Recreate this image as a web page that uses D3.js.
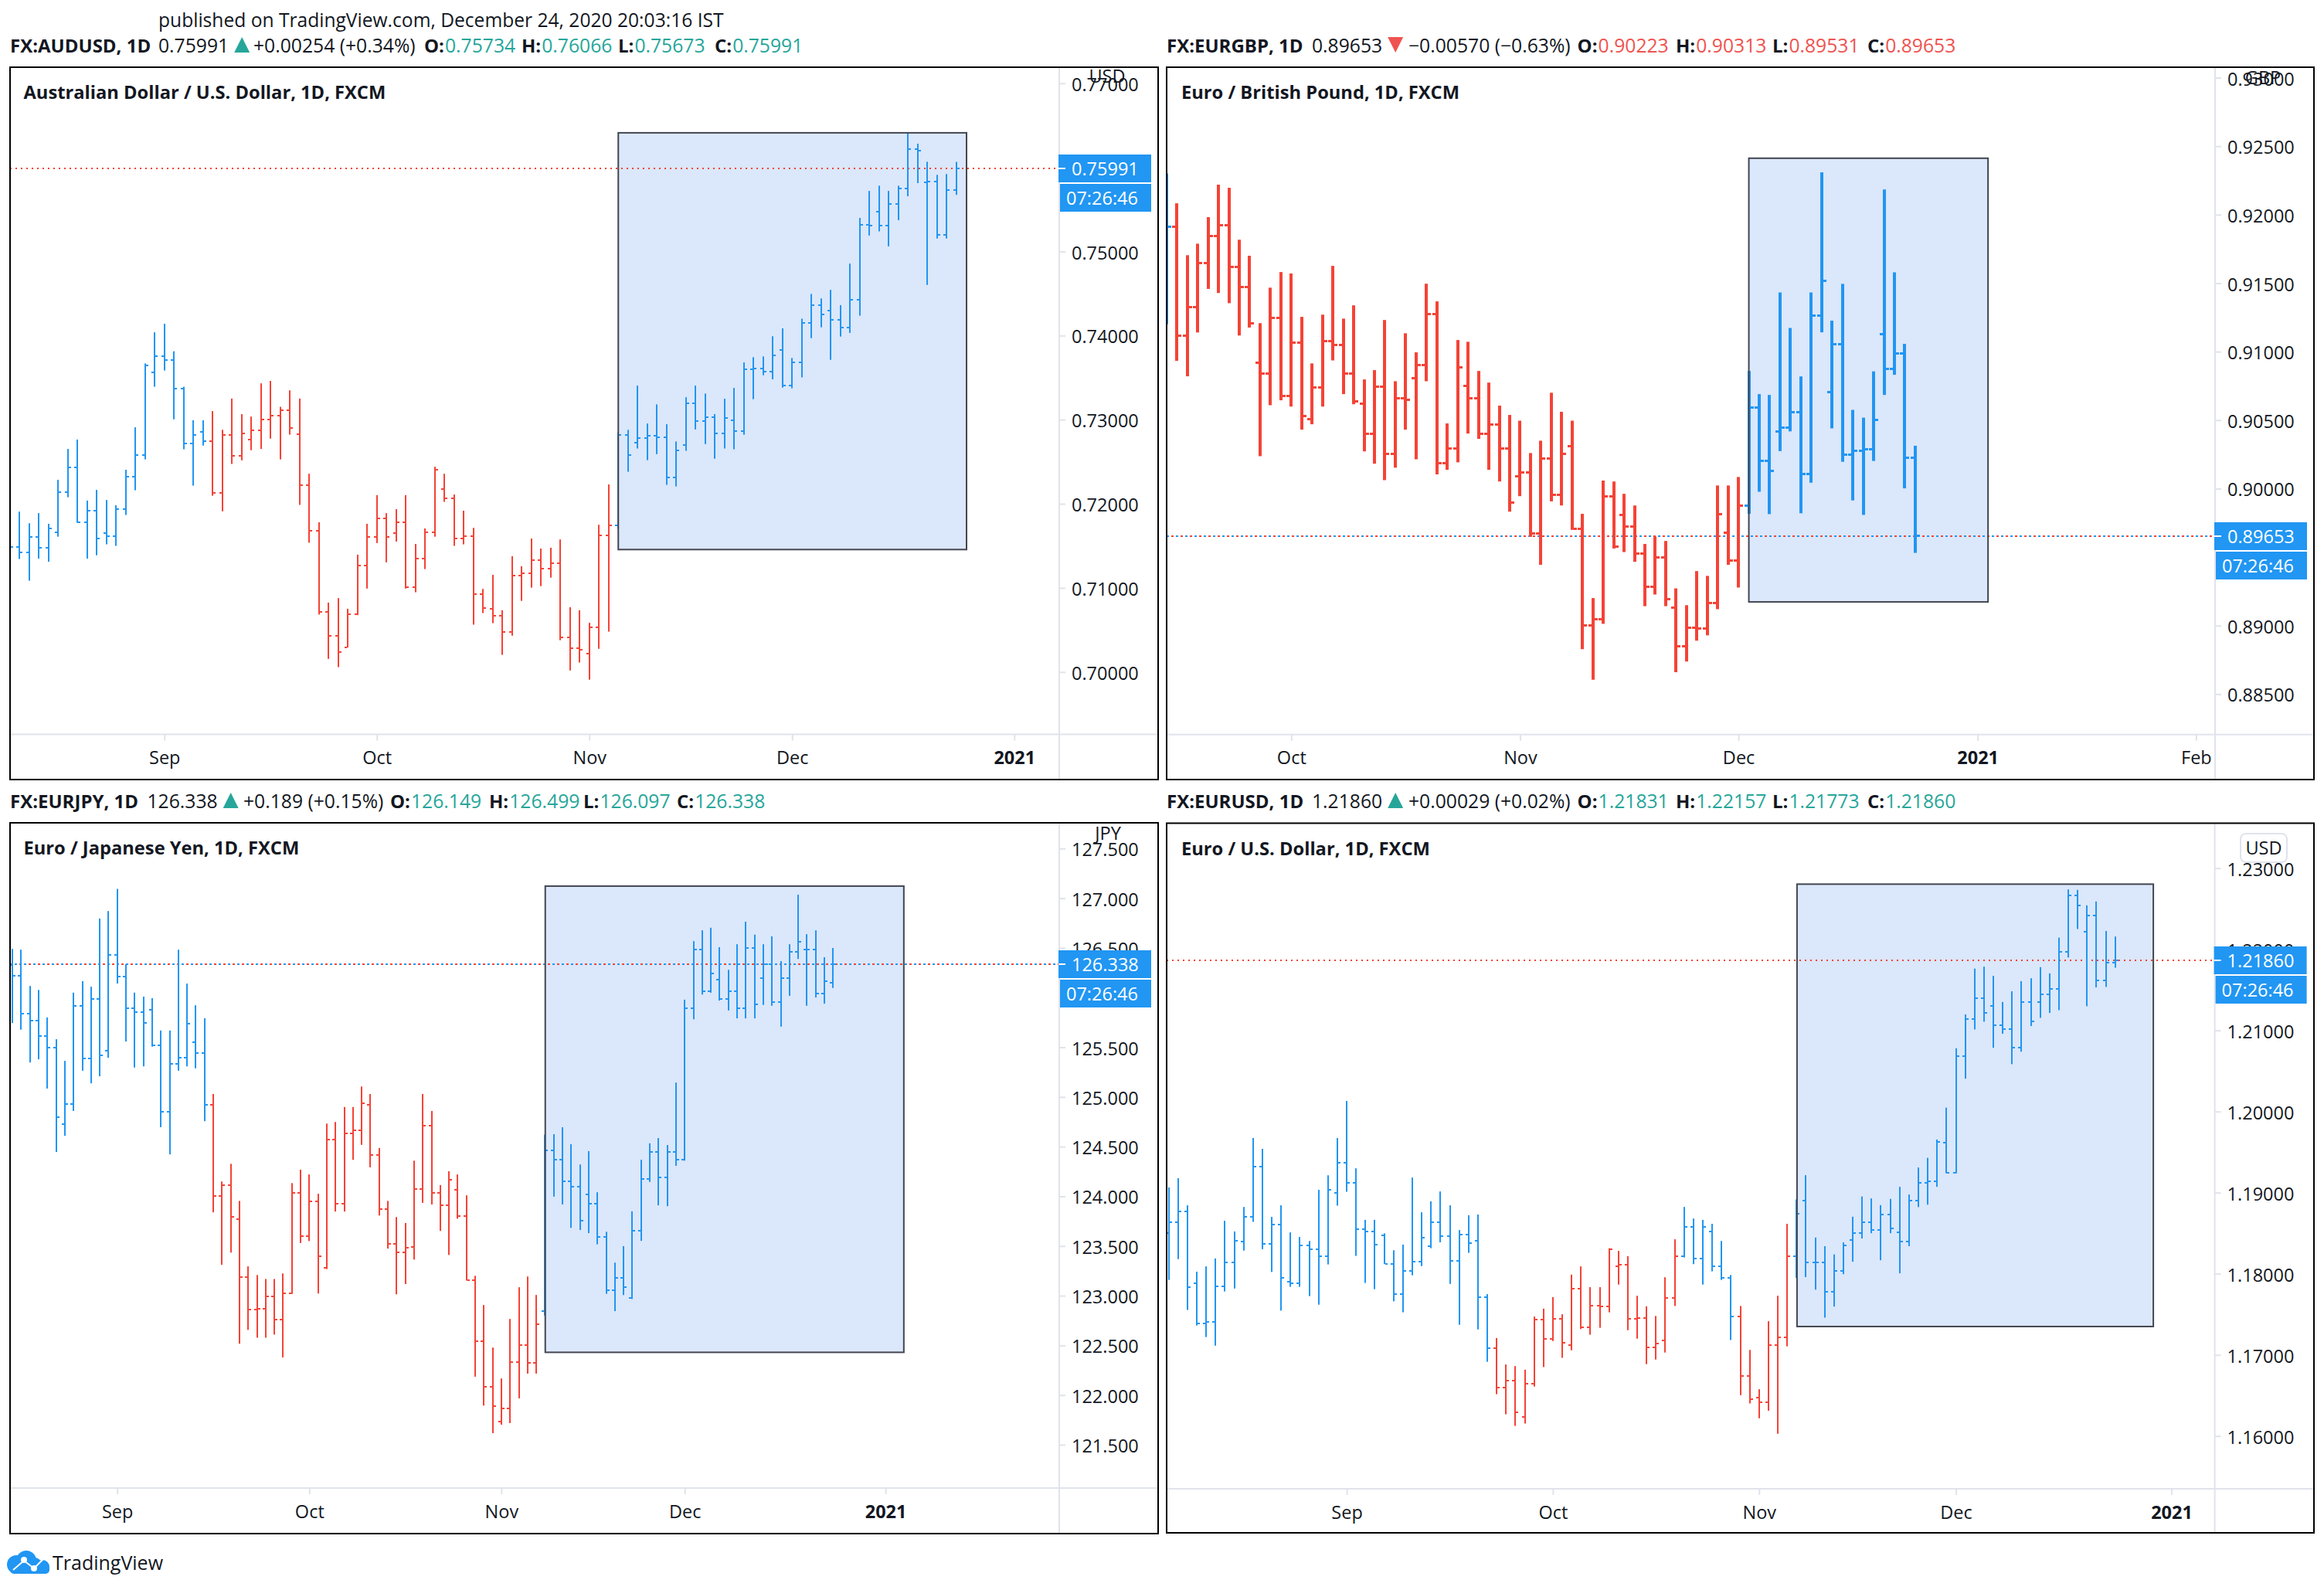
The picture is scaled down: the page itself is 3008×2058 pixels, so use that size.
<!DOCTYPE html>
<html>
<head>
<meta charset="utf-8">
<title>FX daily bars</title>
<script src="https://cdnjs.cloudflare.com/ajax/libs/d3/7.8.5/d3.min.js"></script>
<style>
  html, body { margin: 0; padding: 0; background: #ffffff; }
  svg { display: block; }
  text { font-family: "Open Sans", "Noto Sans", sans-serif; fill: #131722; }
</style>
</head>
<body>
<svg id="chart" width="3008" height="2058"></svg>
<script>
// Daily open / high / low / close for each pair, oldest bar first.
const audOpen = [.7155,.71489,.71424,.71606,.71478,.71664,.72139,.72434,.7178,.71918,.71653,.71616,.7194,.72325,.72583,.73563,.73756,.73712,.73371,.72717,.72855,.72746,.72132,.72819,.72572,.72764,.72873,.73004,.73047,.73113,.72829,.72223,.71682,.70716,.70432,.70291,.7069,.71268,.71606,.71827,.71653,.71783,.7101,.71351,.71664,.72176,.72067,.71587,.71616,.70926,.70752,.70672,.70476,.71148,.71177,.71333,.71231,.7129,.70414,.70283,.70222,.70534,.71624,.71746,.72821,.72723,.72777,.72808,.72795,.72314,.72697,.73195,.72982,.73031,.72835,.72995,.72861,.73596,.73605,.73569,.73832,.73405,.73685,.74152,.74362,.74295,.74184,.74095,.74424,.75319,.7547,.7531,.75564,.75751,.76218,.75826,.75831,.75194,.75734];
const audHigh = [.7170,.71907,.71769,.71889,.71762,.72285,.72652,.72764,.72038,.72165,.72045,.71983,.72405,.72909,.73669,.74039,.74141,.73814,.73392,.72993,.72993,.73102,.7288,.73251,.73066,.73037,.73432,.73461,.73153,.73349,.73251,.72357,.7178,.70825,.70879,.70752,.71395,.71762,.72103,.71889,.71936,.72103,.71522,.71707,.72441,.72357,.7211,.71918,.71714,.70988,.71155,.70734,.71377,.71257,.71587,.71468,.71478,.71576,.7077,.70734,.70585,.71751,.7223,.7285,.72879,.73405,.72955,.73182,.72946,.72741,.73267,.73405,.73311,.73066,.73249,.73378,.73681,.73743,.73752,.73992,.74086,.73734,.74201,.74495,.74442,.74544,.74362,.74856,.75399,.7572,.75782,.7572,.75782,.7641,.76281,.76067,.75911,.7592,.76066];
const audLow = [.7130,.71344,.71086,.71348,.71311,.71609,.72078,.71773,.71348,.71388,.71518,.715,.71867,.72161,.72528,.73392,.73585,.73004,.72648,.72216,.72692,.72096,.71911,.72474,.72517,.72637,.72652,.72775,.72528,.72822,.71987,.71537,.70683,.70156,.70058,.70291,.70676,.70992,.71533,.71304,.71551,.70992,.70948,.71224,.71609,.72023,.715,.71518,.70563,.70701,.70581,.70204,.70432,.70846,.71003,.71021,.71122,.70378,.70018,.70113,.69909,.70276,.7048,.7170,.72381,.72657,.72519,.7259,.72225,.72207,.7263,.72884,.7271,.72536,.72657,.72648,.72821,.73244,.73529,.7348,.73382,.73373,.73503,.7397,.74099,.73712,.73988,.74032,.74237,.7519,.75239,.75061,.75372,.75657,.75813,.74602,.75154,.75154,.75673];
const audClose = [.71489,.71424,.71606,.71478,.71707,.72139,.72434,.7178,.71918,.71587,.71616,.7194,.72325,.72583,.73647,.73756,.73712,.73371,.72717,.72815,.72746,.72132,.72819,.72572,.72833,.72873,.73004,.73047,.73113,.72902,.72223,.71682,.70716,.70432,.7024,.7069,.71268,.71606,.71827,.71606,.71783,.7101,.71351,.71664,.72401,.72067,.71587,.71616,.70926,.70763,.70672,.70476,.71148,.71177,.71333,.71231,.7129,.70414,.70283,.70265,.70534,.71624,.71744,.72821,.72581,.72777,.72808,.72795,.72314,.72634,.73195,.72982,.73031,.72835,.73022,.72861,.73596,.73605,.73569,.73765,.73405,.73685,.74152,.74362,.74255,.74184,.74095,.74424,.75319,.7531,.7531,.75564,.75751,.76218,.762,.75831,.75194,.75729,.75991];

const gbpOpen = [.9200,.91911,.91114,.91325,.91649,.91843,.91921,.91616,.91474,.90917,.90839,.91247,.90677,.91066,.90509,.90736,.91075,.91046,.90842,.90622,.90399,.90742,.90256,.90661,.90804,.90904,.91276,.90188,.90295,.90748,.90658,.90399,.9047,.90292,.90088,.9012,.8967,.90217,.89952,.90308,.89709,.89,.89045,.89945,.89809,.89722,.89524,.89285,.89495,.89133,.88848,.88987,.8898,.89165,.89677,.89473,.89877,.9059,.90202,.90418,.90446,.90559,.90105,.91263,.90703,.91057,.90246,.90277,.9029,.91126,.90872,.90985,.90223];
const gbpHigh = [.9230,.92083,.91704,.91788,.91982,.92219,.92196,.91817,.917,.91208,.91467,.91581,.91571,.91254,.90914,.9127,.91626,.91241,.91338,.90797,.90865,.91231,.90784,.91134,.90995,.91496,.91367,.90476,.91085,.91072,.90859,.90774,.90606,.90538,.90496,.9026,.9035,.907,.90561,.90496,.89816,.89201,.90059,.90052,.89962,.89877,.89596,.89651,.89618,.89272,.89149,.89398,.89363,.90023,.90023,.90085,.90859,.9069,.90684,.91432,.91173,.90819,.91432,.92309,.91226,.91495,.90575,.90518,.90856,.92184,.91579,.91057,.90313];
const gbpLow = [.9120,.90933,.9082,.9114,.91458,.91428,.91354,.91118,.91176,.90237,.90609,.90645,.90599,.90431,.9047,.90599,.90936,.9069,.90616,.90272,.90182,.90062,.90153,.90431,.90214,.90784,.90104,.90137,.90192,.90402,.90363,.90137,.90052,.89832,.89945,.89648,.89444,.89907,.89877,.89699,.88828,.88605,.89013,.89563,.89537,.89466,.89142,.89227,.89142,.8866,.88738,.8889,.88929,.8912,.89444,.89278,.89816,.89977,.89814,.90274,.90418,.8982,.90043,.91141,.9044,.90196,.89914,.89808,.90202,.90684,.90831,.90002,.89531];
const gbpClose = [.91911,.91114,.91325,.91649,.91843,.91921,.91616,.91474,.91208,.90839,.91247,.90677,.91066,.90532,.90736,.91075,.91046,.90842,.90638,.90399,.90742,.90256,.90661,.90651,.90904,.91276,.90188,.90295,.90884,.90658,.90399,.9047,.90292,.899,.9012,.8967,.90217,.89952,.90256,.89709,.89,.89045,.89945,.89576,.89722,.89524,.89285,.89495,.89194,.88848,.88987,.8898,.89165,.89816,.89473,.89877,.9059,.90202,.9013,.90446,.90559,.90105,.91263,.91517,.91057,.90246,.90277,.9029,.90503,.90872,.90985,.90227,.89653];

const jpyOpen = [126.332,126.220,125.839,125.768,125.613,125.498,124.724,124.926,125.915,125.387,125.986,125.466,126.427,126.212,125.891,125.855,125.879,125.518,124.851,125.332,125.395,125.550,125.442,124.918,124.002,124.113,123.768,123.184,122.859,122.867,122.990,122.760,123.022,124.034,123.597,123.946,123.280,124.570,123.926,124.633,124.665,124.918,124.415,123.871,123.522,123.434,123.490,124.073,124.708,124.034,123.910,124.065,123.799,123.157,122.54,122.083,121.733,121.866,122.332,122.504,122.325,122.846,124.464,124.368,124.150,124.097,124.019,123.927,123.591,123.054,123.181,122.980,123.652,124.172,124.447,124.189,124.447,124.368,125.896,126.485,126.066,126.184,125.987,126.062,125.896,126.502,126.193,126.337,125.952,126.193,126.463,126.481,126.481,126.040,126.149];
const jpyHigh = [126.490,126.482,126.117,126.077,125.800,125.581,125.363,126.050,126.165,126.109,126.796,126.871,127.094,126.335,126.050,126.010,125.994,125.669,125.669,126.482,126.141,125.923,125.792,125.030,124.149,124.327,123.954,123.295,123.208,123.168,123.168,123.224,124.133,124.268,124.220,124.026,124.732,124.748,124.899,124.899,125.105,125.030,124.486,123.954,123.791,123.732,124.359,125.030,124.859,124.113,124.252,124.220,124.010,123.20,122.906,122.478,122.167,122.766,123.085,123.193,123.007,124.62,124.626,124.695,124.525,124.320,124.455,124.041,123.643,123.333,123.499,123.849,124.368,124.534,124.586,124.516,125.145,125.979,126.568,126.677,126.703,126.507,126.280,126.537,126.764,126.633,126.537,126.616,126.367,126.537,127.035,126.638,126.677,126.406,126.499];
const jpyLow = [125.744,125.677,125.347,125.379,125.085,124.446,124.609,124.859,125.264,125.137,125.208,125.395,126.141,125.558,125.296,125.308,125.506,124.696,124.422,125.264,125.308,125.288,124.756,123.839,123.311,123.434,122.517,122.656,122.577,122.577,122.609,122.379,123.018,123.530,123.550,123.022,123.268,123.847,123.847,124.367,124.518,124.292,123.807,123.474,123.014,123.117,123.363,123.934,123.918,123.652,123.410,123.775,123.152,122.185,121.894,121.617,121.702,121.718,121.967,122.216,122.216,122.80,123.997,123.918,123.683,123.661,123.630,123.517,123.019,122.845,123.006,122.967,123.552,124.145,123.910,123.901,124.307,124.359,125.782,126.031,126.049,125.970,125.870,125.791,125.791,125.791,125.926,125.918,125.708,126.018,126.389,125.918,126.001,125.939,126.097];
const jpyClose = [126.220,125.839,125.768,125.613,125.498,124.795,124.926,125.915,125.387,125.986,125.419,126.427,126.212,125.891,125.855,125.744,125.518,124.851,125.332,125.395,125.736,125.442,124.918,124.002,124.113,123.791,123.184,122.859,122.867,122.990,122.760,123.022,124.034,123.597,123.946,123.395,124.570,123.926,124.633,124.665,124.934,124.415,123.871,123.522,123.434,123.482,124.073,124.708,124.034,123.910,124.164,123.799,123.156,122.54,122.083,121.889,121.866,122.332,122.504,122.325,122.714,124.464,124.368,124.150,124.097,123.753,123.927,123.591,123.054,123.181,123.085,123.652,124.172,124.447,124.189,124.447,124.368,125.896,126.485,126.066,126.241,125.987,126.062,125.896,126.502,125.935,126.337,125.952,126.193,126.463,126.559,126.481,126.040,126.166,126.338];

const usdOpen = [1.1850,1.18636,1.18771,1.17883,1.17387,1.17407,1.17847,1.1814,1.18396,1.18706,1.19324,1.18368,1.18608,1.17904,1.17883,1.18351,1.18303,1.18217,1.18999,1.19373,1.19125,1.18551,1.18522,1.18474,1.18124,1.17749,1.18038,1.18152,1.18343,1.18636,1.18465,1.1816,1.18486,1.18408,1.17712,1.17086,1.16597,1.16687,1.16239,1.16646,1.17436,1.172,1.17448,1.17122,1.17818,1.17342,1.17611,1.17594,1.18095,1.18115,1.17448,1.17456,1.1709,1.17179,1.17704,1.18217,1.18575,1.18189,1.18522,1.18095,1.17953,1.17476,1.16744,1.16475,1.16418,1.17122,1.1722,1.18217,1.18905,1.18137,1.18143,1.1778,1.18036,1.18417,1.18506,1.18631,1.18536,1.18733,1.18512,1.18399,1.18905,1.19125,1.19137,1.19613,1.19244,1.20685,1.21143,1.21399,1.21304,1.21066,1.21018,1.20792,1.21346,1.21351,1.21441,1.21512,1.21971,1.22667,1.22215,1.22417,1.21619,1.21831];
const usdHigh = [1.19064,1.19178,1.18844,1.18026,1.18091,1.18189,1.18653,1.18522,1.18824,1.19674,1.1954,1.18701,1.18844,1.1851,1.18453,1.18404,1.19035,1.19214,1.19674,1.2013,1.193,1.18665,1.18665,1.18498,1.1829,1.1836,1.19186,1.18758,1.18893,1.19015,1.18844,1.18539,1.18722,1.1873,1.17749,1.17208,1.16882,1.16862,1.16817,1.17472,1.1757,1.17712,1.17501,1.17989,1.18091,1.17835,1.17835,1.18315,1.18282,1.18217,1.17729,1.17599,1.1748,1.17957,1.18425,1.18824,1.18681,1.18665,1.18616,1.18404,1.17985,1.17603,1.17061,1.16577,1.17415,1.17729,1.18616,1.18917,1.19215,1.18447,1.1834,1.18239,1.18387,1.18703,1.18953,1.18929,1.18846,1.18923,1.19072,1.18977,1.1931,1.19429,1.19655,1.20048,1.2078,1.21197,1.21762,1.21786,1.21673,1.21351,1.21482,1.21607,1.21643,1.2178,1.21703,1.22143,1.22738,1.22732,1.22542,1.22589,1.22226,1.22157];
const usdLow = [1.17924,1.18181,1.17554,1.17362,1.1722,1.17114,1.17782,1.17818,1.18286,1.1864,1.18303,1.18022,1.17546,1.17839,1.17839,1.17725,1.17619,1.18115,1.1884,1.19011,1.18221,1.17887,1.1781,1.18119,1.1766,1.17525,1.17981,1.18095,1.18315,1.18388,1.17875,1.17371,1.18258,1.17314,1.16915,1.16516,1.16268,1.16125,1.16154,1.1661,1.1685,1.17171,1.16964,1.17057,1.17318,1.17249,1.17334,1.17525,1.17867,1.17305,1.172,1.16886,1.16943,1.17029,1.17603,1.18201,1.18119,1.17867,1.1803,1.17924,1.17183,1.16504,1.16402,1.16219,1.16312,1.16028,1.17106,1.17949,1.17959,1.17804,1.17459,1.17596,1.17995,1.18149,1.18435,1.185,1.18167,1.185,1.18006,1.1834,1.18822,1.18852,1.19072,1.19238,1.19238,1.20405,1.21012,1.21107,1.20786,1.20959,1.20584,1.20738,1.21054,1.21155,1.21215,1.2125,1.21899,1.2225,1.21298,1.2153,1.21536,1.21773];
const usdClose = [1.18636,1.18771,1.17835,1.17387,1.17407,1.17847,1.1814,1.18408,1.18706,1.19324,1.18368,1.18608,1.17953,1.17883,1.18351,1.18303,1.18217,1.19039,1.19373,1.19125,1.18551,1.18522,1.1836,1.18124,1.17749,1.18038,1.18152,1.18445,1.18636,1.18465,1.1816,1.18486,1.1838,1.17712,1.17086,1.16597,1.16687,1.16288,1.16646,1.17436,1.172,1.17448,1.17151,1.17818,1.17342,1.17611,1.17594,1.18303,1.18115,1.17448,1.17456,1.1709,1.17143,1.17704,1.18217,1.18575,1.18189,1.18579,1.18095,1.17953,1.17476,1.16744,1.16459,1.16418,1.17122,1.1722,1.18217,1.18742,1.18137,1.18143,1.1778,1.18036,1.18352,1.18506,1.18631,1.18536,1.18733,1.1856,1.18399,1.18905,1.19125,1.19137,1.19625,1.19244,1.20685,1.21143,1.21399,1.21215,1.21066,1.21018,1.20792,1.21346,1.21113,1.21441,1.21512,1.21971,1.22667,1.22536,1.22417,1.21619,1.2184,1.2186];

// Tick values along each price scale.
const audTicks = [.70,.71,.72,.73,.74,.75,.76,.77];
const gbpTicks = [.885,.89,.895,.90,.905,.91,.915,.92,.925,.93];
const jpyTicks = [121.5,122,122.5,123,123.5,124,124.5,125,125.5,126,126.5,127,127.5];
const usdTicks = [1.16,1.17,1.18,1.19,1.20,1.21,1.22,1.23];

// Month labels, keyed by bar index.
const audMonths = [[16,"Sep"],[38,"Oct"],[60,"Nov"],[81,"Dec"],[104,"2021"]];
const gbpMonths = [[12,"Oct"],[34,"Nov"],[55,"Dec"],[78,"2021"],[99,"Feb"]];
const jpyMonths = [[12,"Sep"],[34,"Oct"],[56,"Nov"],[77,"Dec"],[100,"2021"]];
const usdMonths = [[19,"Sep"],[41,"Oct"],[63,"Nov"],[84,"Dec"],[107,"2021"]];

// Bar index ranges painted red; the remaining bars are blue.
const audRed = [[21,62]];
const gbpRed = [[1,55]];
const jpyRed = [[23,60]];
const usdRed = [[35,54],[61,66]];

// Highlight rectangles as [first bar, last bar, top price, bottom price].
const audBox = [63, 99.06, .76411, .71456];
const gbpBox = [56, 79, .92412, .89173];
const jpyBox = [61.03, 102.1, 127.122, 122.43];
const usdBox = [67.05, 105.07, 1.22803, 1.1735];

const BLUE = "#2196f3", RED = "#f44336", TEAL = "#26a69a", DOWN = "#ef5350", INK = "#131722", RULE = "#e0e3eb";
const FS = 23.5, HEAD_FS = 24.7, HEAD_BOLD_FS = 24, TITLE_FS = 23.7;

const panels = [
  { o: audOpen, h: audHigh, l: audLow, c: audClose, ticks: audTicks, months: audMonths, red: audRed, box: audBox,
    left: 13, right: 1499, top: 87, bottom: 1009, axisX: 1371, axisY: 950.5, titleX: 30.5,
    xBase: 12.76, step: 12.5, yCal: [.70, 869.8, .75, 325.5], digits: 5, barW: 2, ext: 3, barH: 2,
    title: "Australian Dollar / U.S. Dollar, 1D, FXCM", symbol: "FX:AUDUSD, 1D", headerY: 58,
    last: "0.75991", change: "+0.00254 (+0.34%)", up: true, ohlc: ["0.75734","0.76066","0.75673","0.75991"],
    xs: [205, 328, 549, 675, 800, 925],
    cur: "USD", curBox: false, curX: 1433, curY: 98, lineColors: [RED] },
  { o: gbpOpen, h: gbpHigh, l: gbpLow, c: gbpClose, ticks: gbpTicks, months: gbpMonths, red: gbpRed, box: gbpBox,
    left: 1510, right: 2995, top: 87, bottom: 1009, axisX: 2867, axisY: 950.8, titleX: 1529,
    xBase: 1509.8, step: 13.46, yCal: [.885, 898.4, .925, 189.2], digits: 5, barW: 4, ext: 4, barH: 3,
    title: "Euro / British Pound, 1D, FXCM", symbol: "FX:EURGBP, 1D", headerY: 58,
    last: "0.89653", change: "\u22120.00570 (\u22120.63%)", up: false, ohlc: ["0.90223","0.90313","0.89531","0.89653"],
    xs: [1698, 1823, 2041.6, 2169, 2294, 2417],
    cur: "GBP", curBox: false, curX: 2929, curY: 100, lineColors: [BLUE, RED] },
  { o: jpyOpen, h: jpyHigh, l: jpyLow, c: jpyClose, ticks: jpyTicks, months: jpyMonths, red: jpyRed, box: jpyBox,
    left: 13, right: 1499, top: 1065, bottom: 1985, axisX: 1371, axisY: 1926, titleX: 30.5,
    xBase: 16.1, step: 11.3, yCal: [121.5, 1870, 127, 1162.6], digits: 3, barW: 2, ext: 3, barH: 2,
    title: "Euro / Japanese Yen, 1D, FXCM", symbol: "FX:EURJPY, 1D", headerY: 1036,
    last: "126.338", change: "+0.189 (+0.15%)", up: true, ohlc: ["126.149","126.499","126.097","126.338"],
    xs: [190.5, 315, 505, 633, 755, 876],
    cur: "JPY", curBox: false, curX: 1434, curY: 1078, lineColors: [RED, BLUE] },
  { o: usdOpen, h: usdHigh, l: usdLow, c: usdClose, ticks: usdTicks, months: usdMonths, red: usdRed, box: usdBox,
    left: 1510, right: 2995, top: 1065.5, bottom: 1984, axisX: 2866.6, axisY: 1927, titleX: 1529,
    xBase: 1512.6, step: 12.13, yCal: [1.16, 1858.7, 1.23, 1123.7], digits: 5, barW: 2, ext: 3, barH: 2,
    title: "Euro / U.S. Dollar, 1D, FXCM", symbol: "FX:EURUSD, 1D", headerY: 1036,
    last: "1.21860", change: "+0.00029 (+0.02%)", up: true, ohlc: ["1.21831","1.22157","1.21773","1.21860"],
    xs: [1698, 1823, 2041.6, 2169, 2294, 2417],
    cur: "USD", curBox: true, curX: 2930, curY: 1097, lineColors: [RED] }
];

const svg = d3.select("#chart");
svg.append("rect").attr("width", 3008).attr("height", 2058).attr("fill", "#ffffff");

svg.append("text").attr("x", 205).attr("y", 25).attr("dominant-baseline", "central")
  .attr("font-size", 24.6).text("published on TradingView.com, December 24, 2020 20:03:16 IST");

panels.forEach((p, pi) => {
  const [p0, y0, p1, y1] = p.yCal;
  const y = d3.scaleLinear().domain([p0, p1]).range([y0, y1]);
  const x = d3.scaleLinear().domain([0, 1]).range([p.xBase, p.xBase + p.step]);
  const isRed = i => p.red.some(([a, b]) => i >= a && i <= b);
  const g = svg.append("g");

  // Clip region for everything in the plot area.
  const clipId = "plot" + pi;
  svg.append("clipPath").attr("id", clipId).append("rect")
    .attr("x", p.left).attr("y", p.top).attr("width", p.axisX - p.left).attr("height", p.axisY - p.top);

  // Symbol header above the panel.
  const color = p.up ? TEAL : DOWN;
  const hdr = g.append("g");
  const head = (xp, txt, bold, fill) => hdr.append("text").attr("x", xp).attr("y", p.headerY)
    .attr("dominant-baseline", "central").attr("font-size", bold ? HEAD_BOLD_FS : HEAD_FS)
    .attr("font-weight", bold ? 700 : 400).style("fill", fill || INK).text(txt);
  head(p.left, p.symbol, true);
  const lastW = head(p.xs[0], p.last, false).node().getComputedTextLength();
  const tx = p.xs[0] + lastW + 17, ty = p.headerY;
  hdr.append("path").attr("fill", color)
    .attr("d", p.up ? `M${tx-10},${ty+10}L${tx+10},${ty+10}L${tx},${ty-10}Z` : `M${tx-10},${ty-10}L${tx+10},${ty-10}L${tx},${ty+10}Z`);
  head(p.xs[1], p.change, false);
  ["O:", "H:", "L:", "C:"].forEach((lab, k) => {
    const w = head(p.xs[2 + k], lab, true).node().getComputedTextLength();
    head(p.xs[2 + k] + w + 1, p.ohlc[k], false, color);
  });

  // Highlight fill sits beneath the bars, its outline above them.
  const [b0, b1, bTop, bBot] = p.box;
  const boxAttrs = s => s.attr("x", x(b0)).attr("y", y(bTop)).attr("width", x(b1) - x(b0)).attr("height", y(bBot) - y(bTop));
  const plot = g.append("g").attr("clip-path", `url(#${clipId})`);
  plot.append("rect").call(boxAttrs).attr("fill", "#dbe7fa");

  // Dotted line at the last close.
  const lastClose = p.c[p.c.length - 1];
  const lineY = Math.round(y(lastClose));
  p.lineColors.forEach((col, k) => {
    plot.append("line").attr("x1", p.left).attr("x2", p.axisX)
      .attr("y1", lineY).attr("y2", lineY)
      .attr("stroke", col).attr("stroke-width", 2)
      .attr("stroke-dasharray", p.lineColors.length > 1 ? "3 9" : "2 5")
      .attr("stroke-dashoffset", k * 6);
  });

  // OHLC bars: a vertical stem with open tick on the left and close tick on the right.
  const bars = plot.append("g").selectAll("g").data(d3.range(p.o.length)).join("g")
    .attr("fill", i => isRed(i) ? RED : BLUE);
  const cx = i => Math.round(x(i) - p.barW / 2);
  bars.append("rect").attr("x", cx).attr("width", p.barW)
    .attr("y", i => y(p.h[i])).attr("height", i => y(p.l[i]) - y(p.h[i]));
  bars.append("rect").attr("x", i => cx(i) - p.ext).attr("width", p.ext)
    .attr("y", i => Math.round(y(p.o[i]) - p.barH / 2)).attr("height", p.barH);
  bars.append("rect").attr("x", i => cx(i) + p.barW).attr("width", p.ext)
    .attr("y", i => Math.round(y(p.c[i]) - p.barH / 2)).attr("height", p.barH);

  plot.append("rect").call(boxAttrs).attr("fill", "none").attr("stroke", "#434651").attr("stroke-width", 2);

  // Series title inside the plot.
  g.append("text").attr("x", p.titleX).attr("y", p.top + 32).attr("dominant-baseline", "central")
    .attr("font-size", TITLE_FS).attr("font-weight", 700).text(p.title);

  // Price axis on the right.
  const yAxis = d3.axisRight(y).tickValues(p.ticks).tickFormat(d3.format(`.${p.digits}f`)).tickSize(8).tickPadding(8);
  const ya = g.append("g").attr("transform", `translate(${p.axisX},0)`).call(yAxis);
  ya.select(".domain").remove();
  ya.selectAll("line").attr("stroke", RULE).attr("stroke-width", 2);
  ya.selectAll("text").attr("font-size", FS).style("fill", INK).attr("font-family", '"Open Sans"')
    .attr("y", 2);

  // Time axis along the bottom.
  const xAxis = d3.axisBottom(x).tickValues(p.months.map(m => m[0]))
    .tickFormat(i => p.months.find(m => m[0] === i)[1]).tickSize(8).tickPadding(14);
  const xa = g.append("g").attr("transform", `translate(0,${p.axisY})`).call(xAxis);
  xa.select(".domain").remove();
  xa.selectAll("line").attr("stroke", RULE).attr("stroke-width", 2);
  xa.selectAll("text").attr("font-size", FS).style("fill", INK).attr("font-family", '"Open Sans"')
    .attr("font-weight", i => p.months.find(m => m[0] === i)[1] === "2021" ? 700 : 400);

  // Axis separators.
  g.append("line").attr("x1", p.axisX).attr("x2", p.axisX).attr("y1", p.top).attr("y2", p.bottom)
    .attr("stroke", RULE).attr("stroke-width", 2);
  g.append("line").attr("x1", p.left).attr("x2", p.right).attr("y1", p.axisY).attr("y2", p.axisY)
    .attr("stroke", RULE).attr("stroke-width", 2);

  // Currency tag at the head of the price scale.
  if (p.curBox) {
    g.append("rect").attr("x", p.curX - 30).attr("y", p.curY - 18).attr("width", 60).attr("height", 37).attr("rx", 7)
      .attr("fill", "#ffffff").attr("stroke", RULE).attr("stroke-width", 2);
  }
  g.append("text").attr("x", p.curX).attr("y", p.curY).attr("text-anchor", "middle").attr("dominant-baseline", "central")
    .attr("font-size", FS).text(p.cur);

  // Last price and countdown flags.
  const ly = lineY;
  const fx = p.axisX - 1, fw = 120;
  g.append("rect").attr("x", fx).attr("y", ly - 18).attr("width", fw).attr("height", 36).attr("fill", BLUE);
  g.append("rect").attr("x", fx + 2).attr("y", ly + 20).attr("width", fw - 2).attr("height", 36).attr("fill", BLUE);
  g.append("rect").attr("x", fx).attr("y", ly - 1).attr("width", 9).attr("height", 2).attr("fill", "#ffffff");
  g.append("text").attr("x", p.axisX + 16).attr("y", ly).attr("dominant-baseline", "central")
    .attr("font-size", FS).style("fill", "#ffffff").text(d3.format(`.${p.digits}f`)(lastClose));
  g.append("text").attr("x", p.axisX + 9).attr("y", ly + 38).attr("dominant-baseline", "central")
    .attr("font-size", FS).style("fill", "#ffffff").text("07:26:46");

  // Panel frame.
  g.append("rect").attr("x", p.left).attr("y", p.top).attr("width", p.right - p.left).attr("height", p.bottom - p.top)
    .attr("fill", "none").attr("stroke", "#000000").attr("stroke-width", 2);
});

// Publisher mark at the bottom left.
const mark = svg.append("g");
[[21, 2025, 12], [34, 2020, 13], [45, 2025, 9], [55, 2028, 9]].forEach(([cx, cy, r]) =>
  mark.append("circle").attr("cx", cx).attr("cy", cy).attr("r", r).attr("fill", BLUE));
mark.append("rect").attr("x", 13).attr("y", 2026).attr("width", 51).attr("height", 11).attr("rx", 5).attr("fill", BLUE);
mark.append("polyline").attr("points", "17,2032 31,2020 44,2030 58,2016").attr("fill", "none").attr("stroke", "#ffffff").attr("stroke-width", 2);
mark.append("circle").attr("cx", 31).attr("cy", 2019).attr("r", 4).attr("fill", "#ffffff");
mark.append("circle").attr("cx", 44).attr("cy", 2030).attr("r", 4).attr("fill", "#ffffff");
svg.append("text").attr("x", 68).attr("y", 2022).attr("dominant-baseline", "central")
  .attr("font-size", 25).text("TradingView");
</script>
</body>
</html>
